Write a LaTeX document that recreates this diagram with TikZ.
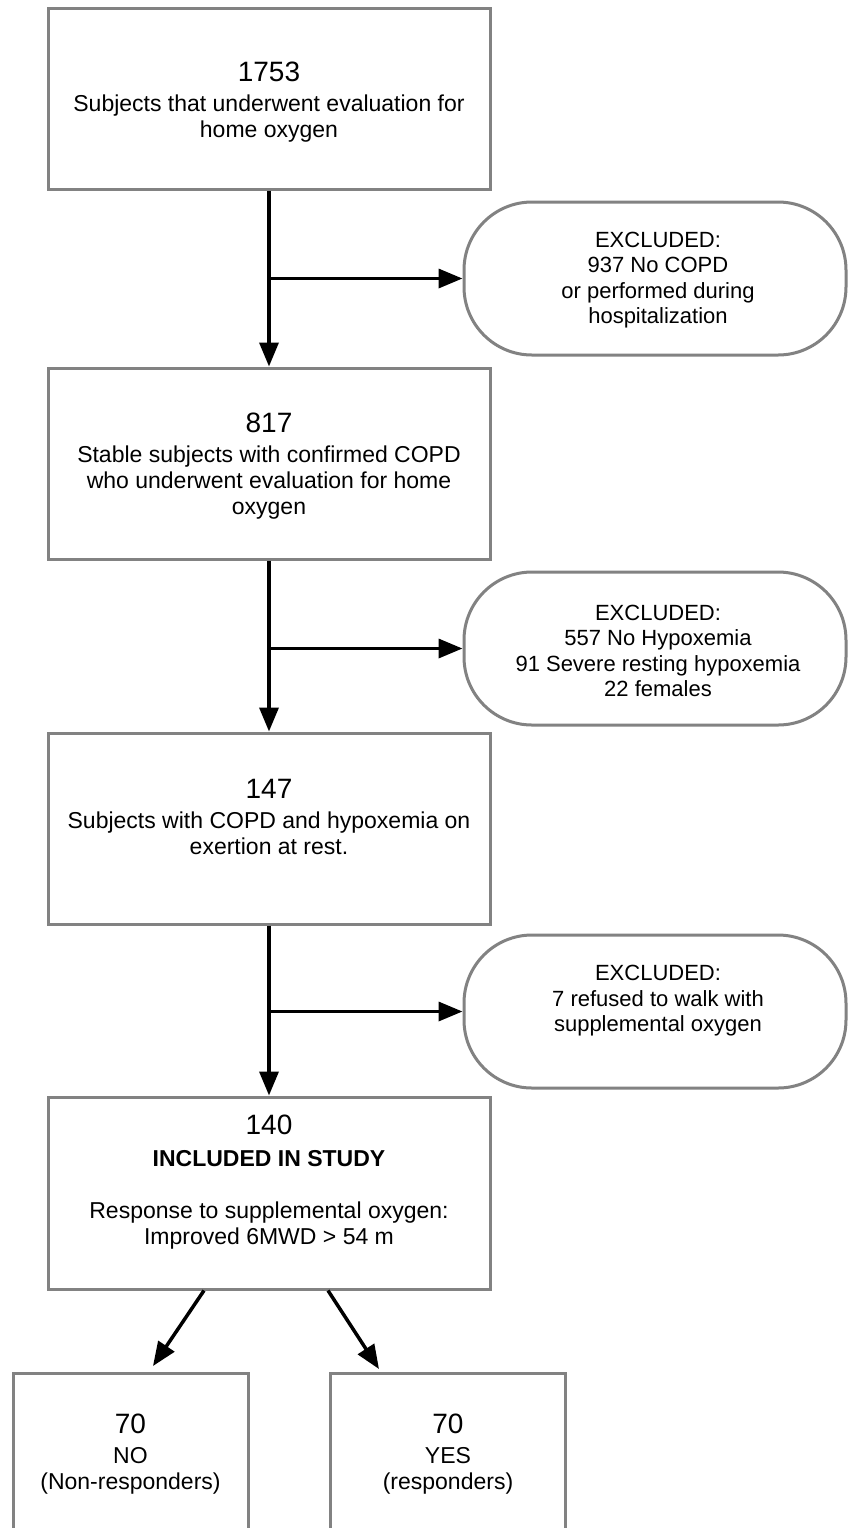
\documentclass[tikz,border=0pt]{standalone}
\usepackage{fontspec}
\setmainfont{Liberation Sans}
\usetikzlibrary{arrows.meta}
\definecolor{boxgray}{RGB}{130,130,130}
\newcommand{\numf}{\fontsize{14}{13}\selectfont}
\begin{document}
\begin{tikzpicture}[x=0.5pt,y=-0.5pt,
  box/.style={draw=boxgray, line width=1.5pt, minimum width=221pt, inner sep=0pt},
  excl/.style={draw=boxgray, line width=1.5pt, rounded corners=34pt, minimum width=191pt, minimum height=76.5pt, inner sep=0pt},
  outbox/.style={draw=boxgray, line width=1.5pt, minimum width=117.5pt, minimum height=93.5pt, inner sep=0pt},
  txt/.style={align=center, font=\fontsize{11.5}{13}\selectfont, inner sep=0pt},
  etxt/.style={align=center, font=\fontsize{11}{12.75}\selectfont, inner sep=0pt},
  arr/.style={line width=1.75pt, -{Triangle[length=12pt,width=9.5pt]}}]
\useasboundingbox (0,0) rectangle (848,1528);
\clip (0,0) rectangle (848,1528);
\fill[white] (0,0) rectangle (848,1528);

% main boxes
\node[box, minimum height=90.5pt] (b1) at (269,98.5) {};
\node[box, minimum height=95.5pt] (b2) at (269,463.5) {};
\node[box, minimum height=95.5pt] (b3) at (269,828.5) {};
\node[box, minimum height=96pt] (b4) at (269,1193) {};

% excluded boxes
\node[excl] (e1) at (655,278.5) {};
\node[excl] (e2) at (655,648.5) {};
\node[excl] (e3) at (655,1011.5) {};

% outcome boxes
\node[outbox] (n) at (130.5,1466.5) {};
\node[outbox] (y) at (448,1466.5) {};

% texts
\node[txt] (t1) at (269,102) {{\numf 1753}\\[2pt]Subjects that underwent evaluation for\\home oxygen};
\node[txt] (t2) at (269,466) {{\numf 817}\\[2pt]Stable subjects with confirmed COPD\\who underwent evaluation for home\\oxygen};
\node[txt] (t3) at (269,817) {{\numf 147}\\[2pt]Subjects with COPD and hypoxemia on\\exertion at rest.};
\node[txt] (t4) at (269,1182) {{\numf 140}\\[3pt]\textbf{INCLUDED IN STUDY}\\[13pt]Response to supplemental oxygen:\\Improved 6MWD > 54 m};
\node[txt] (tn) at (130.5,1454) {{\numf 70}\\[2pt]NO\\(Non-responders)};
\node[txt] (ty) at (448,1454) {{\numf 70}\\[2pt]YES\\(responders)};

\node[etxt] (te1) at (658,280) {EXCLUDED:\\937 No COPD\\or performed during\\hospitalization};
\node[etxt] (te2) at (658,651) {EXCLUDED:\\557 No Hypoxemia\\91 Severe resting hypoxemia\\22 females};
\node[etxt] (te3) at (658,1001) {EXCLUDED:\\7 refused to walk with\\supplemental oxygen};

% connectors
\draw[arr] (b1.south) -- (b2.north);
\draw[arr] (b1.south |- e1.west) -- (e1.west);
\draw[arr] (b2.south) -- (b3.north);
\draw[arr] (b2.south |- e2.west) -- (e2.west);
\draw[arr] (b3.south) -- (b4.north);
\draw[arr] (b3.south |- e3.west) -- (e3.west);

\coordinate (nt) at (153,1366);
\coordinate (yt) at (379,1369);
\draw[arr] ([xshift=-32.5pt]b4.south) -- (nt);
\draw[arr] ([xshift=29.5pt]b4.south) -- (yt);
\end{tikzpicture}
\end{document}
